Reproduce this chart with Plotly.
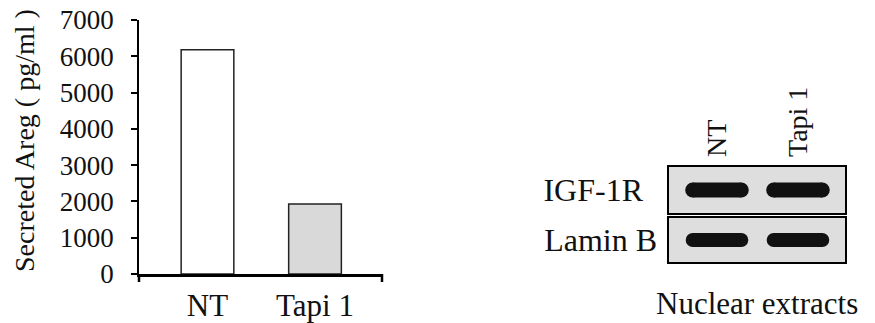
"""Secreted Areg bar chart next to an IGF-1R / Lamin B nuclear-extract blot panel."""

import plotly.graph_objects as go

# the page body keeps its default 8px margin, so the figure is drawn
# 8px smaller and every pixel position below is given in window coords
OFF = 8
W, H = 875 - OFF, 323 - OFF
SERIF = "Liberation Serif, Times New Roman, serif"

# bar chart data
categories = ["NT", "Tapi 1"]
areg_pg_ml = [6180, 1930]
bar_fills = ["#ffffff", "#d9d9d9"]
y_ticks = [0, 1000, 2000, 3000, 4000, 5000, 6000, 7000]

# blot data: lanes (columns) and probed proteins (one panel each)
lanes = ["NT", "Tapi 1"]
proteins = ["IGF-1R", "Lamin B"]
band_present = [[1, 1], [1, 1]]  # rows follow proteins, columns follow lanes


def px_x(a, b):
    return [(a - OFF) / W, (b - OFF) / W]


def px_y(top, bottom):
    return [(323 - bottom) / H, (323 - top) / H]


fig = go.Figure()

fig.add_trace(
    go.Bar(
        x=categories, y=areg_pg_ml, width=0.49,
        marker=dict(color=bar_fills, line=dict(color="#222222", width=1.5)),
        xaxis="x", yaxis="y", showlegend=False,
    )
)

# bands: thick line with round ends (circle markers at the ends)
HALF = 0.3
band_w = [15, 14]
for r, prot in enumerate(proteins):
    xs, ys = [], []
    for c, present in enumerate(band_present[r]):
        if present:
            xs += [c - HALF, c + HALF, None]
            ys += [prot, prot, None]
    fig.add_trace(
        go.Scatter(
            x=xs, y=ys, mode="lines+markers",
            line=dict(color="#111111", width=band_w[r]),
            marker=dict(color="#111111", size=band_w[r], line=dict(width=0)),
            xaxis="x2" if r == 0 else "x3", yaxis="y2" if r == 0 else "y3",
            showlegend=False, hoverinfo="skip",
        )
    )

blot_x = px_x(668, 846)
blot_range = [-0.605, 1.593]

fig.update_layout(
    width=W, height=H, autosize=False,
    margin=dict(l=0, r=0, t=0, b=0),
    paper_bgcolor="white", plot_bgcolor="white",
    font=dict(family=SERIF, color="#111111"),
    xaxis=dict(
        domain=px_x(139, 382), range=[-0.637, 1.623], type="category",
        showline=True, linecolor="black", linewidth=2.5, ticks="",
        showgrid=False, tickfont=dict(size=31), ticklabelstandoff=2,
        anchor="y", automargin=False,
    ),
    yaxis=dict(
        domain=px_y(20, 274), range=[0, 7000], tickvals=y_ticks,
        showline=True, linecolor="black", linewidth=1.5,
        ticks="outside", ticklen=6, tickwidth=1.5, tickcolor="black",
        showgrid=False, zeroline=False, tickfont=dict(size=27),
        ticklabelstandoff=12, anchor="x", automargin=False,
        ticklabeloverflow="allow",
    ),
    xaxis2=dict(
        domain=blot_x, range=blot_range, side="top", anchor="y2",
        tickvals=list(range(len(lanes))), ticktext=lanes, tickangle=-90,
        ticks="", showgrid=False, zeroline=False, showline=False,
        tickfont=dict(size=28), ticklabelstandoff=8, automargin=False,
        ticklabeloverflow="allow",
    ),
    yaxis2=dict(
        domain=px_y(166, 214), type="category", categoryarray=[proteins[0]],
        range=[-0.5, 0.5], anchor="x2", ticks="", showgrid=False,
        showline=False, tickfont=dict(size=32), ticklabelstandoff=24,
        automargin=False,
    ),
    xaxis3=dict(
        domain=blot_x, range=blot_range, anchor="y3", showticklabels=False,
        ticks="", showgrid=False, zeroline=False, showline=False,
        automargin=False,
    ),
    yaxis3=dict(
        domain=px_y(217, 263), type="category", categoryarray=[proteins[1]],
        range=[-0.5, 0.5], anchor="x3", ticks="", showgrid=False,
        showline=False, tickfont=dict(size=32), ticklabelstandoff=10,
        automargin=False,
    ),
)

# blot membranes: gray fill with black frame
for xr, yr in [("x2", "y2"), ("x3", "y3")]:
    fig.add_shape(
        type="rect", xref=f"{xr} domain", yref=f"{yr} domain",
        x0=0, x1=1, y0=0, y1=1, layer="below",
        fillcolor="#dedede", line=dict(color="black", width=2),
    )

# end ticks of the category axis
for xe in (0, 1):
    fig.add_shape(
        type="line", xref="x domain", yref="y domain",
        x0=xe, x1=xe, ysizemode="pixel", yanchor=0, y0=-8, y1=0,
        line=dict(color="black", width=2.5),
    )

fig.add_annotation(
    text="Secreted Areg ( pg/ml )", textangle=-90, showarrow=False,
    xref="paper", yref="paper", x=(24 - OFF) / W, y=(323 - 141) / H,
    xanchor="center", yanchor="middle", font=dict(size=28),
)
fig.add_annotation(
    text="Nuclear extracts", showarrow=False,
    xref="paper", yref="paper", x=(757 - OFF) / W, y=0,
    xanchor="center", yanchor="bottom", font=dict(size=31),
)

fig.write_html("out.html")
